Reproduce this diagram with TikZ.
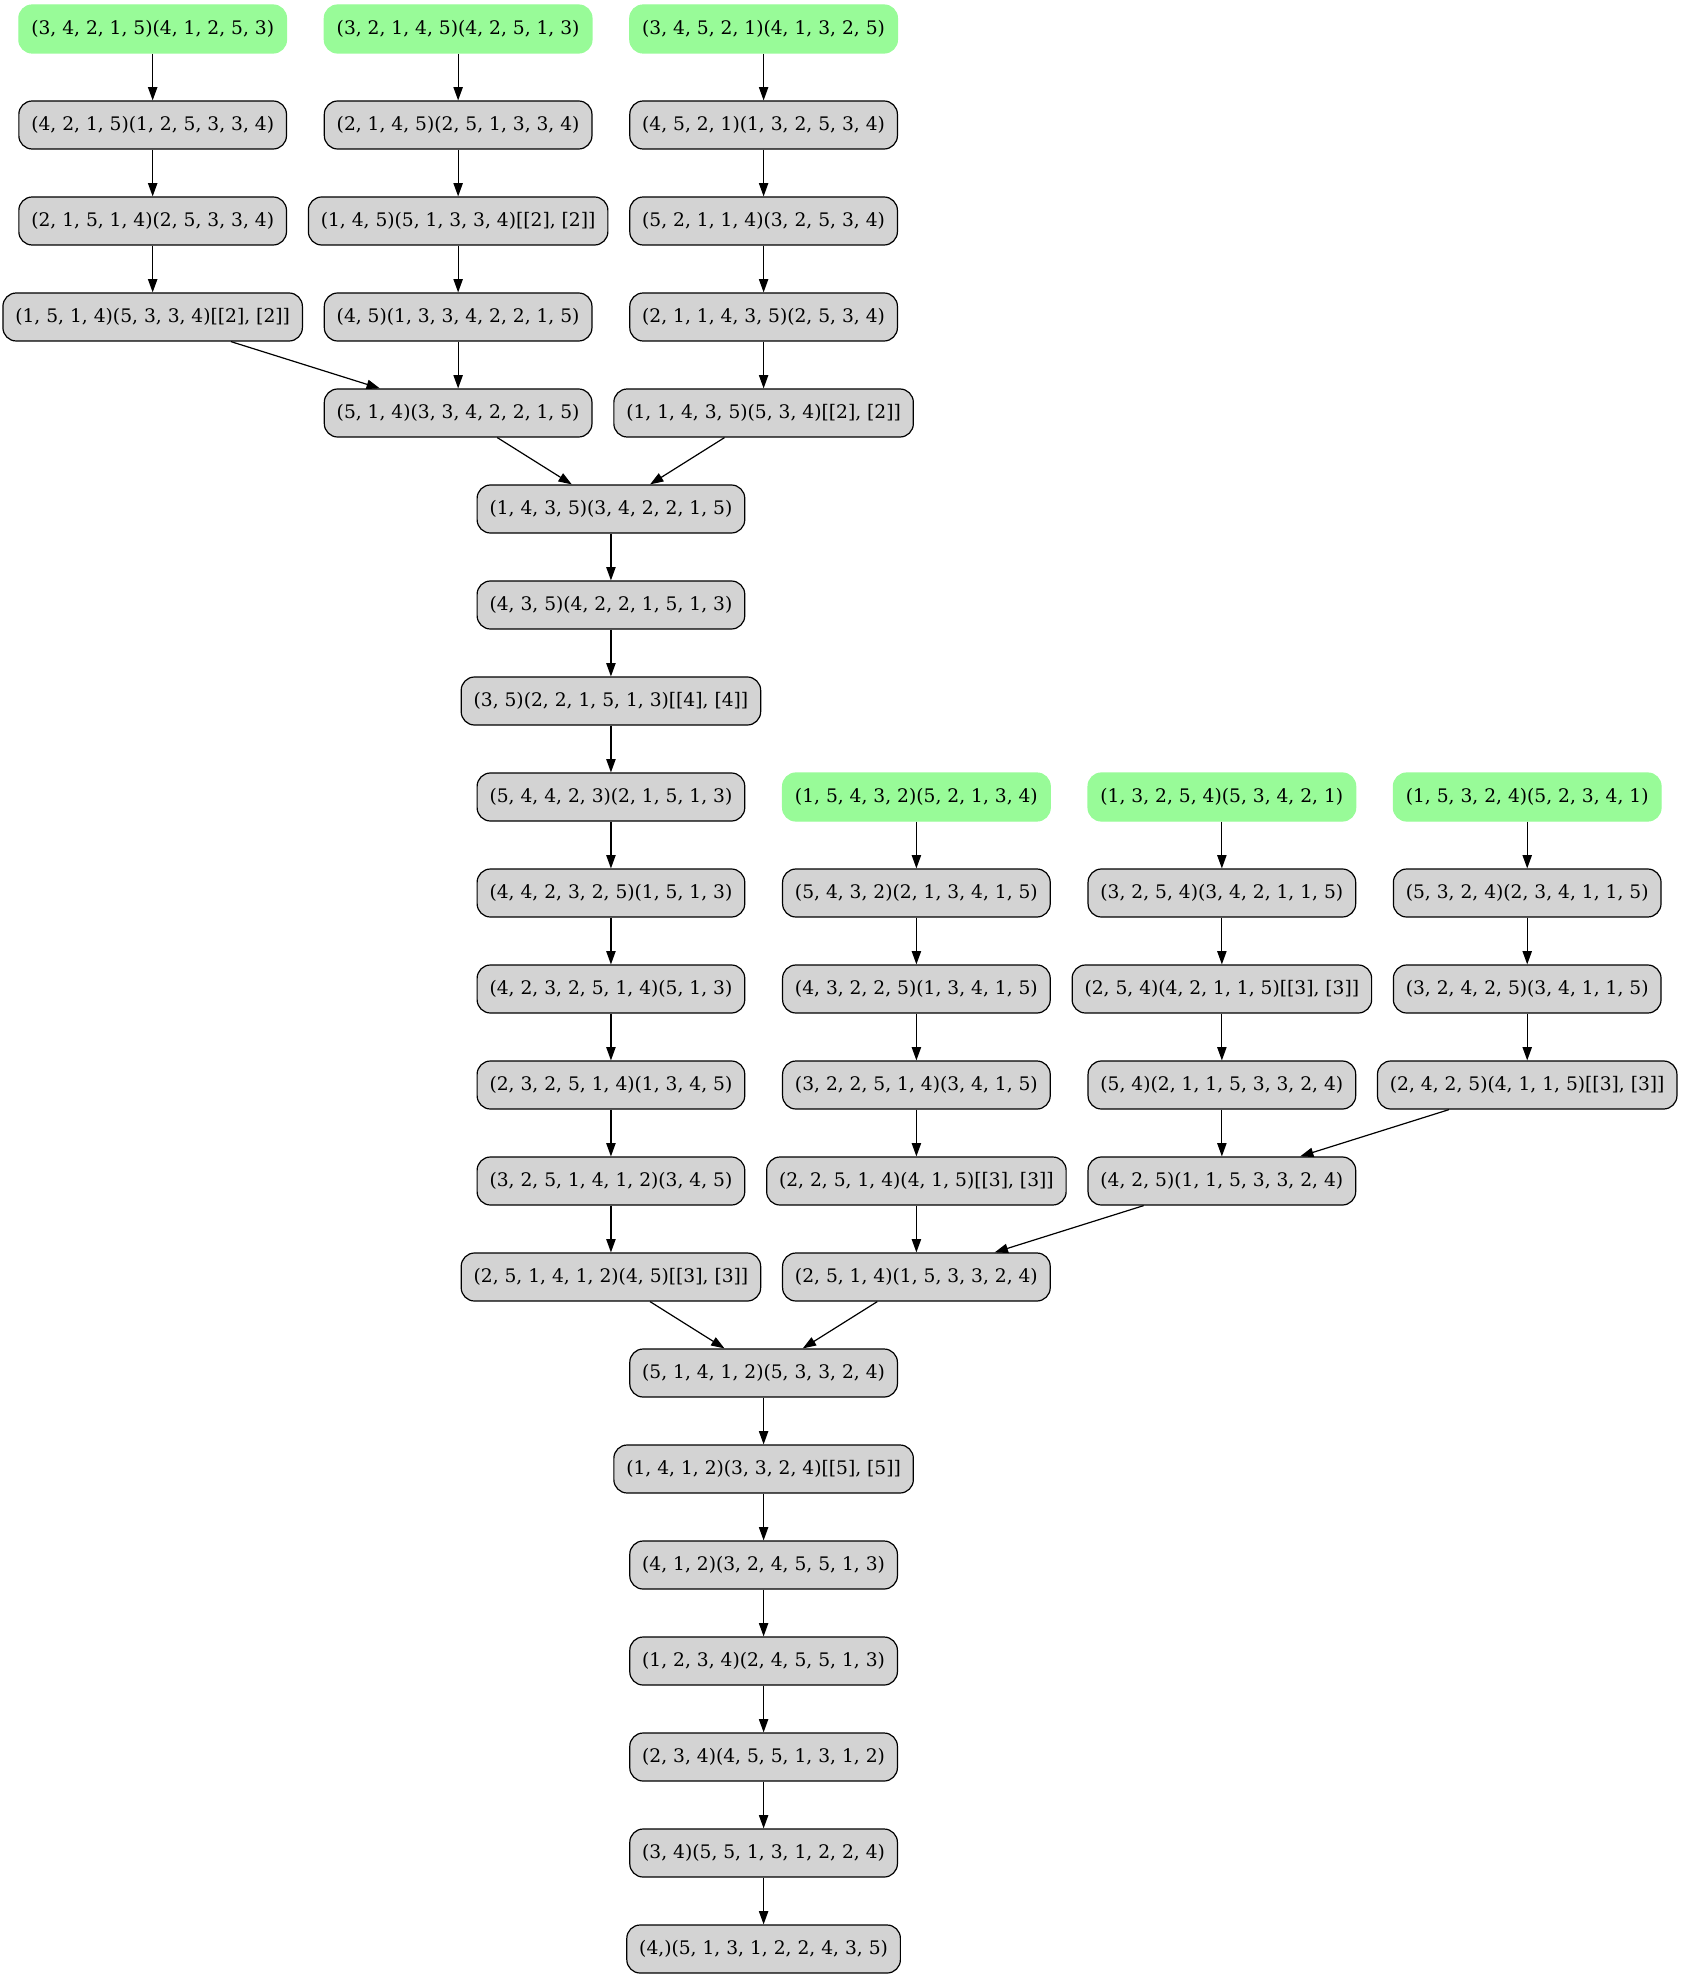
\documentclass[tikz,border=0pt]{standalone}
\usepackage{fontspec}
\setmainfont{DejaVu Serif}
\usetikzlibrary{arrows.meta}
\definecolor{startfill}{HTML}{98FB98}
\definecolor{statefill}{HTML}{D3D3D3}
\tikzset{
  state/.style={draw=black, fill=statefill, rounded corners=10pt, line width=0.9pt,
    minimum height=36pt, inner xsep=9.3pt, inner ysep=0pt,
    font=\fontsize{14}{16.8}\selectfont},
  start/.style={state, draw=startfill, fill=startfill},
  edge/.style={-{Triangle[length=10pt,width=7pt]}, line width=0.9pt, black}
}
\begin{document}
\begin{tikzpicture}[x=1pt,y=-1pt]
\useasboundingbox (0,0) rectangle (1260,1484.25);
% first branch group
\node[start] (a1) at (114.5,21.75)  {(3, 4, 2, 1, 5)(4, 1, 2, 5, 3)};
\node[state] (a2) at (114.5,93.75)  {(4, 2, 1, 5)(1, 2, 5, 3, 3, 4)};
\node[state] (a3) at (114.5,165.75) {(2, 1, 5, 1, 4)(2, 5, 3, 3, 4)};
\node[state] (a4) at (114.5,237.75) {(1, 5, 1, 4)(5, 3, 3, 4)[[2], [2]]};
\node[start] (b1) at (343.6,21.75)  {(3, 2, 1, 4, 5)(4, 2, 5, 1, 3)};
\node[state] (b2) at (343.6,93.75)  {(2, 1, 4, 5)(2, 5, 1, 3, 3, 4)};
\node[state] (b3) at (343.6,165.75) {(1, 4, 5)(5, 1, 3, 3, 4)[[2], [2]]};
\node[state] (b4) at (343.6,237.75) {(4, 5)(1, 3, 3, 4, 2, 2, 1, 5)};
\node[state] (b5) at (343.6,309.75) {(5, 1, 4)(3, 3, 4, 2, 2, 1, 5)};
\node[start] (c1) at (572.7,21.75)  {(3, 4, 5, 2, 1)(4, 1, 3, 2, 5)};
\node[state] (c2) at (572.7,93.75)  {(4, 5, 2, 1)(1, 3, 2, 5, 3, 4)};
\node[state] (c3) at (572.7,165.75) {(5, 2, 1, 1, 4)(3, 2, 5, 3, 4)};
\node[state] (c4) at (572.7,237.75) {(2, 1, 1, 4, 3, 5)(2, 5, 3, 4)};
\node[state] (c5) at (572.7,309.75) {(1, 1, 4, 3, 5)(5, 3, 4)[[2], [2]]};
% merged chain
\node[state] (d1) at (458.2,381.75) {(1, 4, 3, 5)(3, 4, 2, 2, 1, 5)};
\node[state] (d2) at (458.2,453.75) {(4, 3, 5)(4, 2, 2, 1, 5, 1, 3)};
\node[state] (d3) at (458.2,525.75) {(3, 5)(2, 2, 1, 5, 1, 3)[[4], [4]]};
\node[state] (d4) at (458.2,597.75) {(5, 4, 4, 2, 3)(2, 1, 5, 1, 3)};
\node[state] (d5) at (458.2,669.75) {(4, 4, 2, 3, 2, 5)(1, 5, 1, 3)};
\node[state] (d6) at (458.2,741.75) {(4, 2, 3, 2, 5, 1, 4)(5, 1, 3)};
\node[state] (d7) at (458.2,813.75) {(2, 3, 2, 5, 1, 4)(1, 3, 4, 5)};
\node[state] (d8) at (458.2,885.75) {(3, 2, 5, 1, 4, 1, 2)(3, 4, 5)};
\node[state] (d9) at (458.2,957.75) {(2, 5, 1, 4, 1, 2)(4, 5)[[3], [3]]};
% second branch group
\node[start] (e1) at (687.3,597.75) {(1, 5, 4, 3, 2)(5, 2, 1, 3, 4)};
\node[state] (e2) at (687.3,669.75) {(5, 4, 3, 2)(2, 1, 3, 4, 1, 5)};
\node[state] (e3) at (687.3,741.75) {(4, 3, 2, 2, 5)(1, 3, 4, 1, 5)};
\node[state] (e4) at (687.3,813.75) {(3, 2, 2, 5, 1, 4)(3, 4, 1, 5)};
\node[state] (e5) at (687.3,885.75) {(2, 2, 5, 1, 4)(4, 1, 5)[[3], [3]]};
\node[state] (e6) at (687.3,957.75) {(2, 5, 1, 4)(1, 5, 3, 3, 2, 4)};
\node[start] (f1) at (916.4,597.75) {(1, 3, 2, 5, 4)(5, 3, 4, 2, 1)};
\node[state] (f2) at (916.4,669.75) {(3, 2, 5, 4)(3, 4, 2, 1, 1, 5)};
\node[state] (f3) at (916.4,741.75) {(2, 5, 4)(4, 2, 1, 1, 5)[[3], [3]]};
\node[state] (f4) at (916.4,813.75) {(5, 4)(2, 1, 1, 5, 3, 3, 2, 4)};
\node[state] (f5) at (916.4,885.75) {(4, 2, 5)(1, 1, 5, 3, 3, 2, 4)};
\node[start] (g1) at (1145.4,597.75) {(1, 5, 3, 2, 4)(5, 2, 3, 4, 1)};
\node[state] (g2) at (1145.4,669.75) {(5, 3, 2, 4)(2, 3, 4, 1, 1, 5)};
\node[state] (g3) at (1145.4,741.75) {(3, 2, 4, 2, 5)(3, 4, 1, 1, 5)};
\node[state] (g4) at (1145.4,813.75) {(2, 4, 2, 5)(4, 1, 1, 5)[[3], [3]]};
% final chain
\node[state] (h1) at (572.7,1029.75) {(5, 1, 4, 1, 2)(5, 3, 3, 2, 4)};
\node[state] (h2) at (572.7,1101.75) {(1, 4, 1, 2)(3, 3, 2, 4)[[5], [5]]};
\node[state] (h3) at (572.7,1173.75) {(4, 1, 2)(3, 2, 4, 5, 5, 1, 3)};
\node[state] (h4) at (572.7,1245.75) {(1, 2, 3, 4)(2, 4, 5, 5, 1, 3)};
\node[state] (h5) at (572.7,1317.75) {(2, 3, 4)(4, 5, 5, 1, 3, 1, 2)};
\node[state] (h6) at (572.7,1389.75) {(3, 4)(5, 5, 1, 3, 1, 2, 2, 4)};
\node[state] (h7) at (572.7,1461.75) {(4,)(5, 1, 3, 1, 2, 2, 4, 3, 5)};
% connectors
\foreach \u/\v in {a1/a2,a2/a3,a3/a4,a4/b5,
                   b1/b2,b2/b3,b3/b4,b4/b5,
                   c1/c2,c2/c3,c3/c4,c4/c5,
                   b5/d1,c5/d1,
                   d1/d2,d2/d3,d3/d4,d4/d5,d5/d6,d6/d7,d7/d8,d8/d9,d9/h1,
                   e1/e2,e2/e3,e3/e4,e4/e5,e5/e6,e6/h1,
                   f1/f2,f2/f3,f3/f4,f4/f5,f5/e6,
                   g1/g2,g2/g3,g3/g4,g4/f5,
                   h1/h2,h2/h3,h3/h4,h4/h5,h5/h6,h6/h7}
  \draw[edge] (\u) -- (\v);
\end{tikzpicture}
\end{document}
